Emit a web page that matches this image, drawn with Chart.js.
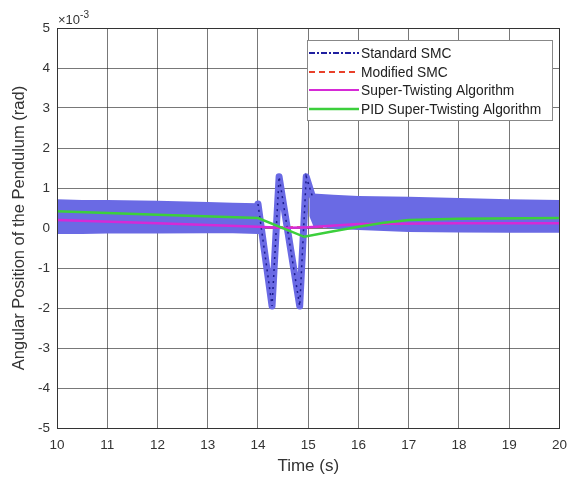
<!DOCTYPE html>
<html><head><meta charset="utf-8">
<script src="https://cdn.jsdelivr.net/npm/chart.js@4.4.0/dist/chart.umd.min.js"></script>
<style>html,body{margin:0;padding:0;background:#fff}canvas{display:block}</style>
</head><body>
<canvas id="c" width="576" height="479"></canvas>
<script>
// values in units of 1e-3 rad
const xTicks = [10,11,12,13,14,15,16,17,18,19,20];
const yTicks = [-5,-4,-3,-2,-1,0,1,2,3,4,5];

// Standard SMC chattering band envelope (before / after disturbance)
const smcPreT  = [10, 10.5, 11, 12, 13, 13.5, 14.0, 14.05];
const smcPreUp = [0.72, 0.70, 0.70, 0.68, 0.65, 0.63, 0.62, 0.60];
const smcPreLo = [-0.15, -0.15, -0.14, -0.14, -0.13, -0.13, -0.15, -0.15];
const smcPostT  = [15.02, 15.1, 15.5, 16, 17, 18, 19, 20];
const smcPostUp = [0.85, 0.86, 0.83, 0.80, 0.78, 0.75, 0.72, 0.70];
const smcPostLo = [0.30, 0.05, -0.02, -0.05, -0.10, -0.11, -0.12, -0.12];
// Standard SMC through the disturbance
const smcDistT = [14.0, 14.28, 14.42, 14.83, 14.96, 15.08];
const smcDistY = [0.60, -1.95, 1.28, -1.95, 1.28, 0.80];

const modT = [10, 14, 15, 20];
const modY = [0.05, 0.02, 0.02, 0.08];

const stT = [10, 12, 14.0, 14.5, 15.0, 16, 18, 20];
const stY = [0.20, 0.12, 0.03, 0.0, 0.02, 0.10, 0.12, 0.12];

const pidT = [10, 12, 14.0, 14.92, 15.5, 16.0, 16.5, 17.0, 18, 20];
const pidY = [0.42, 0.33, 0.25, -0.22, -0.08, 0.03, 0.13, 0.20, 0.23, 0.25];

const legendLabels = ['Standard SMC','Modified SMC','Super-Twisting Algorithm','PID Super-Twisting Algorithm'];

const pts = (t, y) => t.map((v, i) => ({x: v, y: y[i]}));
const BAND = '#6a6ae4';
const FONT = "'Liberation Sans', Arial, sans-serif";

const datasets = [
  {label:'bandPreUp', data: pts(smcPreT, smcPreUp), borderWidth:0, pointRadius:0, fill:false, order:10},
  {label:'bandPreLo', data: pts(smcPreT, smcPreLo), borderWidth:0, pointRadius:0, fill:'-1', backgroundColor:BAND, order:10},
  {label:'bandPostUp', data: pts(smcPostT, smcPostUp), borderWidth:0, pointRadius:0, fill:false, order:10},
  {label:'bandPostLo', data: pts(smcPostT, smcPostLo), borderWidth:0, pointRadius:0, fill:'-1', backgroundColor:BAND, order:10},
  {label:'smcDist', data: pts(smcDistT, smcDistY), borderColor:BAND, borderWidth:7, pointRadius:0, borderJoinStyle:'round', borderCapStyle:'round', order:9},
  {label:legendLabels[0], data: pts(smcDistT, smcDistY), borderColor:'#1a1a8c', borderWidth:1.5, borderDash:[2,4], pointRadius:0, order:8},
  {label:legendLabels[1], data: pts(modT, modY), borderColor:'#e8402a', borderWidth:2, borderDash:[6,4], pointRadius:0, order:11},
  {label:legendLabels[2], data: pts(stT, stY), borderColor:'#d62ad6', borderWidth:2.5, pointRadius:0, order:6},
  {label:legendLabels[3], data: pts(pidT, pidY), borderColor:'#3ccf3c', borderWidth:2.5, pointRadius:0, order:5},
];

const legendStyles = [
  {color:'#2020a0', dash:[6,2,2,2], width:2},
  {color:'#e8402a', dash:[6,4], width:2},
  {color:'#d62ad6', dash:[], width:2},
  {color:'#3ccf3c', dash:[], width:2.5},
];

const decor = {
  id:'decor',
  afterDraw(chart){
    const ctx = chart.ctx, a = chart.chartArea;
    ctx.save();
    // axes box
    ctx.strokeStyle = '#333'; ctx.lineWidth = 1;
    ctx.strokeRect(Math.round(a.left)+0.5, Math.round(a.top)+0.5, Math.round(a.right-a.left), Math.round(a.bottom-a.top));
    // exponent
    ctx.fillStyle = '#333';
    ctx.font = '13px ' + FONT; ctx.textBaseline = 'alphabetic'; ctx.textAlign = 'left';
    ctx.fillText('\u00d710', a.left + 1, a.top - 4);
    const w = ctx.measureText('\u00d710').width;
    ctx.font = '10px ' + FONT;
    ctx.fillText('-3', a.left + 1 + w, a.top - 10);
    // legend
    const lx = 307, ly = 40, lw = 245, lh = 80;
    ctx.fillStyle = '#fff'; ctx.fillRect(lx, ly, lw, lh);
    ctx.strokeStyle = '#888'; ctx.lineWidth = 1; ctx.strokeRect(lx+0.5, ly+0.5, lw, lh);
    const rows = [53, 72, 90, 109];
    ctx.font = '13.8px ' + FONT; ctx.textBaseline = 'middle';
    legendLabels.forEach((lab, i) => {
      const s = legendStyles[i];
      ctx.beginPath(); ctx.setLineDash(s.dash); ctx.strokeStyle = s.color; ctx.lineWidth = s.width;
      ctx.moveTo(309, rows[i]); ctx.lineTo(359, rows[i]); ctx.stroke();
      ctx.setLineDash([]);
      ctx.fillStyle = '#222'; ctx.fillText(lab, 361, rows[i] + 1);
    });
    ctx.restore();
  }
};

new Chart(document.getElementById('c'), {
  type:'line',
  data:{datasets},
  options:{
    responsive:false, animation:false, devicePixelRatio:1,
    layout:{padding:{top:28, right:13, left:0, bottom:0}},
    plugins:{legend:{display:false}, tooltip:{enabled:false}},
    elements:{line:{tension:0}},
    scales:{
      x:{type:'linear', min:10, max:20,
        afterBuildTicks: s => { s.ticks = xTicks.map(v => ({value:v})); },
        afterFit: s => { s.height = 51; },
        ticks:{font:{family:FONT, size:13.5}, color:'#333', padding:9, maxRotation:0},
        grid:{color:'rgba(30,30,30,0.6)', lineWidth:1, drawTicks:false},
        border:{display:false},
        title:{display:true, text:'Time (s)', font:{family:FONT, size:17}, color:'#333', padding:{top:0,bottom:2}}
      },
      y:{type:'linear', min:-5, max:5,
        afterBuildTicks: s => { s.ticks = yTicks.map(v => ({value:v})); },
        afterFit: s => { s.width = 57; },
        ticks:{font:{family:FONT, size:13.5}, color:'#333', padding:7},
        grid:{color:'rgba(30,30,30,0.6)', lineWidth:1, drawTicks:false},
        border:{display:false},
        title:{display:true, text:'Angular Position of the Pendulum (rad)', font:{family:FONT, size:16.5}, color:'#333', padding:{top:10,bottom:0}}
      }
    }
  },
  plugins:[decor]
});
</script>
</body></html>
